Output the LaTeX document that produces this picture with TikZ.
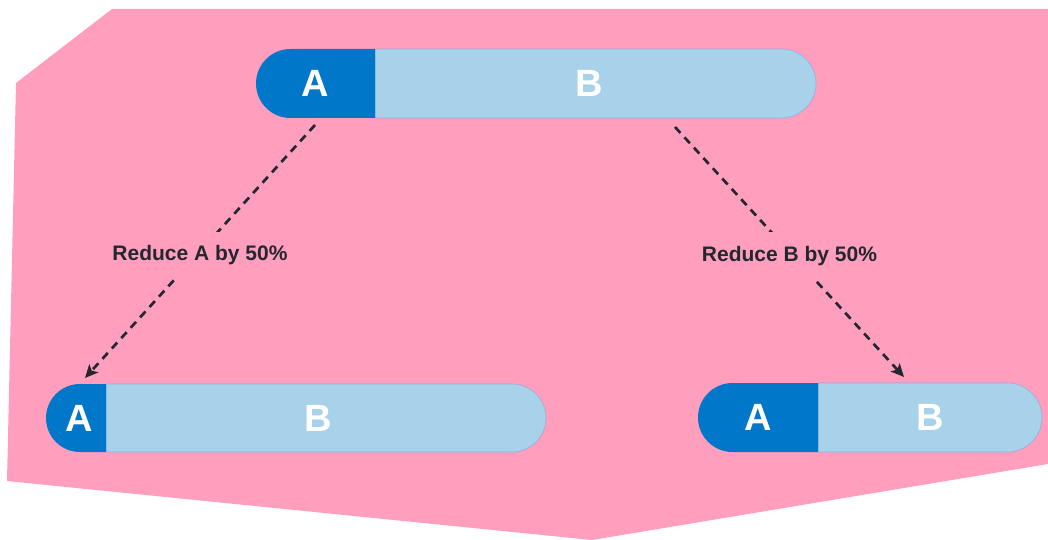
\documentclass[tikz,border=0pt]{standalone}
\usepackage{fontspec}
\setmainfont{Liberation Sans}
\usetikzlibrary{arrows.meta}
\definecolor{bgpink}{HTML}{FF9EBD}
\definecolor{darkA}{HTML}{0077C8}
\definecolor{lightB}{HTML}{A8D1EA}
\definecolor{edgeB}{HTML}{93AEDD}
\definecolor{ink}{HTML}{23272F}
\begin{document}
\begin{tikzpicture}[x=1pt,y=-1pt,
  box/.style={inner sep=0pt, outer sep=0pt},
  letter/.style={text=white, font=\fontsize{38}{38}\selectfont\bfseries, inner sep=0pt},
  flow/.style={draw=ink, line width=2.7pt, dash pattern=on 8pt off 6pt, -{Stealth[length=13pt,width=12pt,inset=3pt]}},
  tag/.style={fill=bgpink, text=ink, font=\fontsize{21}{21}\selectfont\bfseries, inner xsep=3pt, inner ysep=14pt}
]
\useasboundingbox (0,0) rectangle (1048,540);
\fill[bgpink] (16,83) -- (112,9) -- (1048,9) -- (1048,464) -- (592,540) -- (7,481) -- cycle;

% top bar
\node[box, minimum width=441pt, minimum height=69pt] (topB) at (595.5,83.5) {};
\node[box, minimum width=119pt, minimum height=69pt] (topA) at (315.5,83.5) {};
\draw[fill=lightB, draw=edgeB, line width=0.6pt] (topB.north west) [rounded corners=34.5pt] -- (topB.north east) -- (topB.south east) [sharp corners] -- (topB.south west) -- cycle;
\fill[darkA] (topA.north east) [rounded corners=34.5pt] -- (topA.north west) -- (topA.south west) [sharp corners] -- (topA.south east) -- cycle;
\node[letter] (topAt) at (315,83.5) {A};
\node[letter] (topBt) at (589,83.5) {B};

% bottom left bar
\node[box, minimum width=440pt, minimum height=68pt] (leftB) at (326,418) {};
\node[box, minimum width=60pt, minimum height=68pt] (leftA) at (76,418) {};
\draw[fill=lightB, draw=edgeB, line width=0.6pt] (leftB.north west) [rounded corners=34pt] -- (leftB.north east) -- (leftB.south east) [sharp corners] -- (leftB.south west) -- cycle;
\fill[darkA] (leftA.north east) [rounded corners=34pt] -- (leftA.north west) -- (leftA.south west) [sharp corners] -- (leftA.south east) -- cycle;
\node[letter] (leftAt) at (79,418) {A};
\node[letter] (leftBt) at (318,418) {B};

% bottom right bar
\node[box, minimum width=224pt, minimum height=69pt] (rightB) at (930,417.5) {};
\node[box, minimum width=120pt, minimum height=69pt] (rightA) at (758,417.5) {};
\draw[fill=lightB, draw=edgeB, line width=0.6pt] (rightB.north west) [rounded corners=34.5pt] -- (rightB.north east) -- (rightB.south east) [sharp corners] -- (rightB.south west) -- cycle;
\fill[darkA] (rightA.north east) [rounded corners=34.5pt] -- (rightA.north west) -- (rightA.south west) [sharp corners] -- (rightA.south east) -- cycle;
\node[letter] (rightAt) at (758,417.5) {A};
\node[letter] (rightBt) at (930,417.5) {B};

% connectors
\coordinate (s1) at (315,125);
\coordinate (e1) at (85,378);
\coordinate (s2) at (675,127);
\coordinate (e2) at (904,377);
\draw[flow] (s1) -- (e1) node[tag, pos=0.5, yshift=-4pt] (lab1) {Reduce A by 50\%};
\draw[flow] (s2) -- (e2) node[tag, pos=0.5, yshift=-4pt] (lab2) {Reduce B by 50\%};
\end{tikzpicture}
\end{document}
